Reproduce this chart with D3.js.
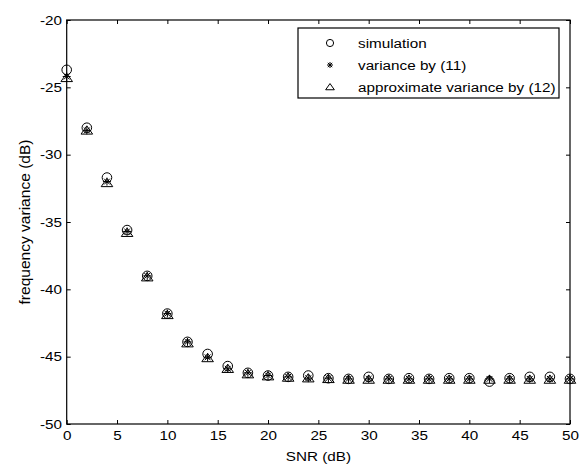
<!DOCTYPE html>
<html><head><meta charset="utf-8">
<script src="https://cdn.jsdelivr.net/npm/d3@7"></script>
<style>body{margin:0;background:#fff}svg{display:block}text{font-family:"Liberation Sans",Arial,sans-serif;fill:#000}</style>
</head><body>
<script>
const snr = [0,2,4,6,8,10,12,14,16,18,20,22,24,26,28,30,32,34,36,38,40,42,44,46,48,50];
const simulation = [-23.7,-28.0,-31.7,-35.6,-39.0,-41.8,-43.9,-44.8,-45.7,-46.2,-46.4,-46.5,-46.4,-46.6,-46.65,-46.5,-46.65,-46.6,-46.65,-46.6,-46.6,-46.85,-46.6,-46.5,-46.5,-46.65];
const variance11 = [-24.2,-28.2,-32.0,-35.7,-39.0,-41.8,-43.9,-45.05,-45.9,-46.2,-46.4,-46.5,-46.6,-46.6,-46.65,-46.65,-46.65,-46.65,-46.65,-46.65,-46.65,-46.65,-46.65,-46.65,-46.65,-46.65];
const approx12 = [-24.3,-28.2,-32.1,-35.8,-39.1,-41.9,-44.0,-45.1,-45.9,-46.3,-46.45,-46.55,-46.6,-46.65,-46.7,-46.7,-46.7,-46.7,-46.7,-46.7,-46.7,-46.7,-46.7,-46.7,-46.7,-46.7];
const xTicks = [0,5,10,15,20,25,30,35,40,45,50];
const yTicks = [-50,-45,-40,-35,-30,-25,-20];
const legendLabels = ["simulation","variance by (11)","approximate variance by (12)"];

const W=584,H=464, L=66.7, R=570, T=20, B=424;
const STRETCH=1.22;
const svg=d3.select("body").append("svg").attr("width",W).attr("height",H);
const x=d3.scaleLinear().domain([0,50]).range([L,R]);
const y=d3.scaleLinear().domain([-50,-20]).range([B,T]);

const fs="12.5px";
const fmt=d=>String(d);
const gB=svg.append("g").attr("transform",`translate(0,${B})`).call(d3.axisBottom(x).tickValues(xTicks).tickSize(-4).tickPadding(7.5).tickFormat(fmt));
const gT=svg.append("g").attr("transform",`translate(0,${T})`).call(d3.axisTop(x).tickValues(xTicks).tickSize(-4).tickFormat(""));
const gL=svg.append("g").attr("transform",`translate(${L},0)`).call(d3.axisLeft(y).tickValues(yTicks).tickSize(-4).tickPadding(4.7).tickFormat(fmt));
const gR=svg.append("g").attr("transform",`translate(${R},0)`).call(d3.axisRight(y).tickValues(yTicks).tickSize(-4).tickFormat(""));
[gB,gT,gL,gR].forEach(g=>{
  g.select(".domain").remove();
  g.selectAll("line").attr("stroke","#000");
  g.selectAll("text").style("font-size",fs).attr("fill","#000").attr("font-family",null);
});
svg.append("rect").attr("x",L).attr("y",T).attr("width",R-L).attr("height",B-T).attr("fill","none").attr("stroke","#000").attr("stroke-width",1.2);

// labels
svg.append("text").attr("class","hs").attr("x",(L+R)/2).attr("y",461).attr("text-anchor","middle").style("font-size",fs).text("SNR (dB)");
svg.append("text").attr("transform",`translate(30,${(T+B)/2}) rotate(-90) scale(1,${STRETCH})`).attr("text-anchor","middle").style("font-size",fs)
  .attr("textLength",165).attr("lengthAdjust","spacingAndGlyphs").text("frequency variance (dB)");

// markers
function circ(g,cx,cy,k){g.append("circle").attr("cx",cx).attr("cy",cy).attr("r",4.8*k).attr("fill","none").attr("stroke","#000").attr("stroke-width",1);}
function star(g,cx,cy,k){const s=4*k, d=2.9*k;
  const p=`M${cx-s},${cy}L${cx+s},${cy}M${cx},${cy-s}L${cx},${cy+s}M${cx-d},${cy-d}L${cx+d},${cy+d}M${cx-d},${cy+d}L${cx+d},${cy-d}`;
  g.append("path").attr("d",p).attr("stroke","#000").attr("stroke-width",1).attr("fill","none");}
function tri(g,cx,cy,k){const h=4.6*k,w=5.8*k;
  g.append("path").attr("d",`M${cx},${cy-h}L${cx+w},${cy+h*0.8}L${cx-w},${cy+h*0.8}Z`).attr("fill","none").attr("stroke","#000").attr("stroke-width",1);}
const gm=svg.append("g");
snr.forEach((s,i)=>{circ(gm,x(s),y(simulation[i]),1);});
snr.forEach((s,i)=>{star(gm,x(s),y(variance11[i]),1);});
snr.forEach((s,i)=>{tri(gm,x(s),y(approx12[i]),1);});

// legend
const lg=svg.append("g");
lg.append("rect").attr("x",298).attr("y",28).attr("width",261).attr("height",70).attr("fill","#fff").attr("stroke","#000").attr("stroke-width",1.2);
const fns=[circ,star,tri];
legendLabels.forEach((t,i)=>{
  const cy=43+i*22;
  fns[i](lg,330,cy,0.75);
  lg.append("text").attr("x",358).attr("y",cy+4.5).style("font-size",fs).text(t);
});

// horizontal stretch of text (reference glyphs are widened)
svg.selectAll("g.tick text, g text, text.hs").each(function(){
  const len=this.getComputedTextLength();
  if(len>0) d3.select(this).attr("textLength",len*STRETCH).attr("lengthAdjust","spacingAndGlyphs");
});
</script>
</body></html>
